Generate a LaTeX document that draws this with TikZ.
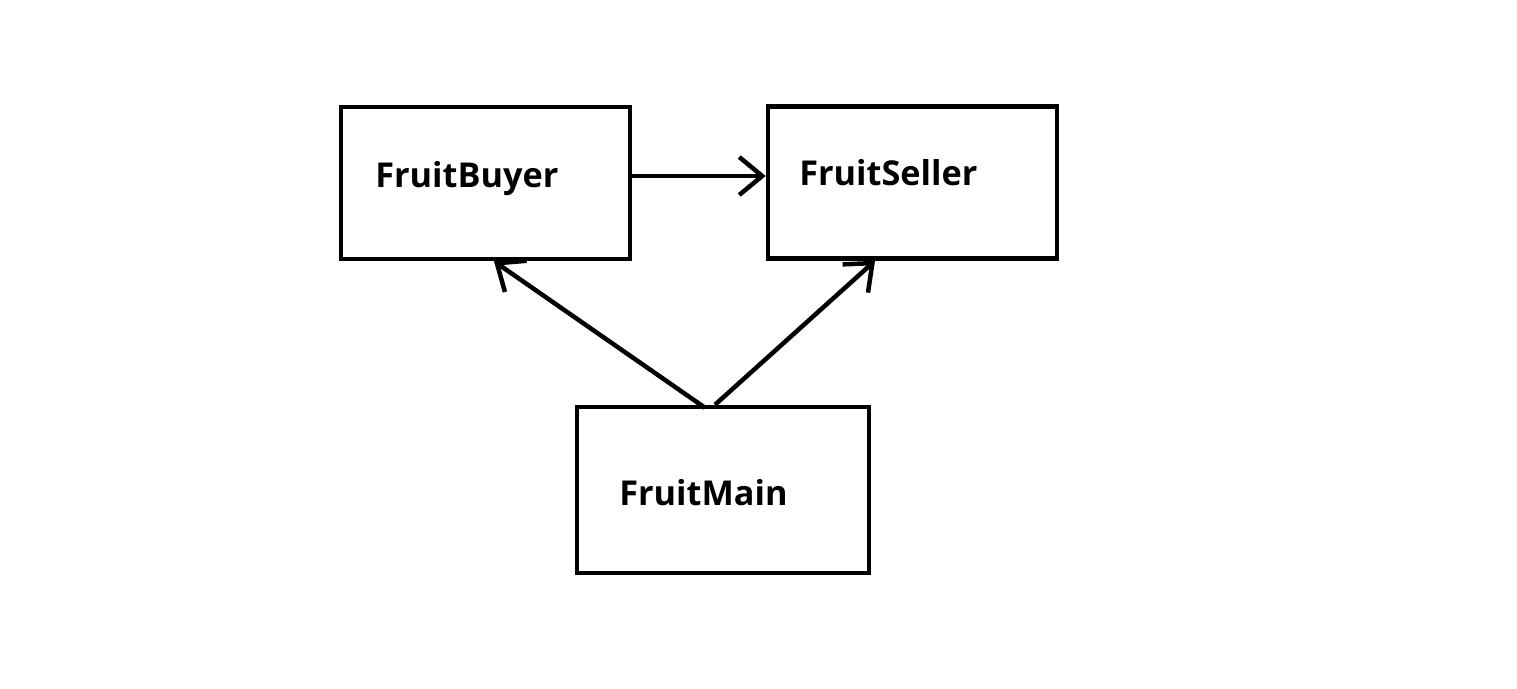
\documentclass[tikz,border=0pt]{standalone}
\usepackage{fontspec}
\setmainfont{Open Sans}
\usepackage{tikz}
\usetikzlibrary{calc,positioning,arrows.meta}

\begin{document}
\begin{tikzpicture}[
  box/.style={draw, line width=0.09cm, minimum width=5.78cm, minimum height=3.04cm, inner sep=0pt},
  classname/.style={font=\fontsize{19.5}{24}\selectfont\bfseries, inner sep=0pt, anchor=base west},
  arr/.style={line width=0.09cm, -{Straight Barb[length=4.6mm,width=7.6mm]}}]
\useasboundingbox (0,0) rectangle (30.34,13.76);
\node[box] (buyer) at (9.71,10.1) {};
\node[box] (seller) at (18.25,10.11) {};
\node[box, minimum width=5.84cm, minimum height=3.32cm] (main) at (14.46,3.96) {};
\node[classname] (buyername) at (7.50,10.01) {FruitBuyer};
\node[classname] (sellername) at (15.98,10.05) {FruitSeller};
\node[classname] (mainname) at (12.38,3.66) {FruitMain};
\draw[arr] ([yshift=1.4mm]buyer.east) -- ([yshift=1.4mm]buyer.east -| seller.west);
\draw[arr] ([xshift=-3.6mm,yshift=-0.6mm]main.north) -- ([xshift=1.7mm]buyer.south);
\draw[arr] ([xshift=-1.6mm]main.north) -- ([xshift=-7.5mm]seller.south);
\end{tikzpicture}
\end{document}
